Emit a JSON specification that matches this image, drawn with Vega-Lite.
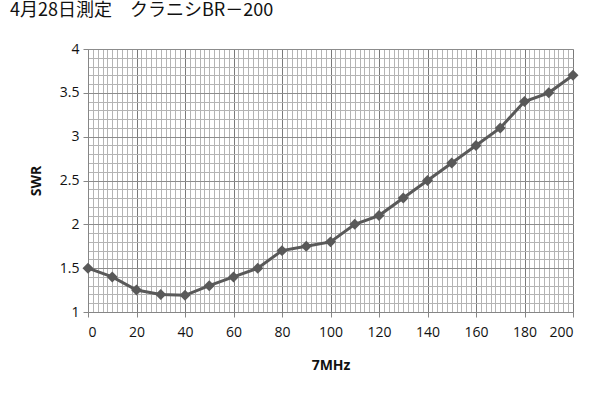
{
  "$schema": "https://vega.github.io/schema/vega-lite/v6.json",
  "width": 485,
  "height": 263,
  "autosize": {"type": "none"},
  "padding": {"left": 88, "top": 49, "right": 37, "bottom": 83},
  "background": "white",
  "title": {
    "text": "4月28日測定　クラニシBR－200",
    "anchor": "start",
    "frame": "group",
    "dx": -78,
    "offset": 22,
    "font": "Noto Sans CJK JP",
    "fontSize": 18,
    "fontWeight": "normal",
    "color": "#111111"
  },
  "data": {
    "values": [
      {"f": 0, "swr": 1.5},
      {"f": 10, "swr": 1.4},
      {"f": 20, "swr": 1.25},
      {"f": 30, "swr": 1.2},
      {"f": 40, "swr": 1.19},
      {"f": 50, "swr": 1.3},
      {"f": 60, "swr": 1.4},
      {"f": 70, "swr": 1.5},
      {"f": 80, "swr": 1.7},
      {"f": 90, "swr": 1.75},
      {"f": 100, "swr": 1.8},
      {"f": 110, "swr": 2.0},
      {"f": 120, "swr": 2.1},
      {"f": 130, "swr": 2.3},
      {"f": 140, "swr": 2.5},
      {"f": 150, "swr": 2.7},
      {"f": 160, "swr": 2.9},
      {"f": 170, "swr": 3.1},
      {"f": 180, "swr": 3.4},
      {"f": 190, "swr": 3.5},
      {"f": 200, "swr": 3.7}
    ]
  },
  "layer": [
    {
      "mark": {"type": "line", "color": "#595959", "strokeWidth": 3},
      "encoding": {
        "x": {
          "field": "f", "type": "quantitative",
          "scale": {"domain": [0, 200], "nice": false, "zero": false},
          "axis": {
            "orient": "top", "title": null, "labels": false, "ticks": false, "domain": false,
            "grid": true, "gridColor": "#b4b4b4", "gridWidth": 1, "gridOpacity": 1,
            "values": [0,2,4,6,8,10,12,14,16,18,20,22,24,26,28,30,32,34,36,38,40,42,44,46,48,50,52,54,56,58,60,62,64,66,68,70,72,74,76,78,80,82,84,86,88,90,92,94,96,98,100,102,104,106,108,110,112,114,116,118,120,122,124,126,128,130,132,134,136,138,140,142,144,146,148,150,152,154,156,158,160,162,164,166,168,170,172,174,176,178,180,182,184,186,188,190,192,194,196,198,200]
          }
        },
        "y": {
          "field": "swr", "type": "quantitative",
          "scale": {"domain": [1, 4], "nice": false, "zero": false},
          "axis": {
            "orient": "right", "title": null, "labels": false, "ticks": false, "domain": false,
            "grid": true, "gridColor": "#b4b4b4", "gridWidth": 1, "gridOpacity": 1,
            "values": [1,1.1,1.2,1.3,1.4,1.5,1.6,1.7,1.8,1.9,2,2.1,2.2,2.3,2.4,2.5,2.6,2.7,2.8,2.9,3,3.1,3.2,3.3,3.4,3.5,3.6,3.7,3.8,3.9,4]
          }
        }
      }
    },
    {
      "mark": {"type": "point", "shape": "diamond", "filled": true, "size": 120, "color": "#595959", "opacity": 1},
      "encoding": {
        "x": {
          "field": "f", "type": "quantitative",
          "axis": {
            "orient": "bottom", "title": "7MHz",
            "values": [0,20,40,60,80,100,120,140,160,180,200],
            "grid": true, "gridColor": "#7a7a7a", "gridWidth": 1, "gridOpacity": 1,
            "domain": true, "domainColor": "#868686", "domainWidth": 1,
            "ticks": true, "tickColor": "#868686", "tickSize": 5,
            "labelFont": "Open Sans", "labelFontSize": 14, "labelColor": "#111111", "labelPadding": 8,
            "titleFont": "Open Sans", "titleFontSize": 14, "titleFontWeight": "bold", "titleColor": "#111111", "titlePadding": 19
          }
        },
        "y": {
          "field": "swr", "type": "quantitative",
          "axis": {
            "orient": "left", "title": "SWR", "format": "~g",
            "values": [1, 1.5, 2, 2.5, 3, 3.5, 4],
            "grid": true, "gridColor": "#8c8c8c", "gridWidth": 1, "gridOpacity": 1,
            "domain": true, "domainColor": "#868686", "domainWidth": 1,
            "ticks": true, "tickColor": "#868686", "tickSize": 5,
            "labelFont": "Open Sans", "labelFontSize": 14, "labelColor": "#111111", "labelPadding": 4,
            "titleFont": "Open Sans", "titleFontSize": 14, "titleFontWeight": "bold", "titleColor": "#111111", "titlePadding": 16
          }
        }
      }
    }
  ],
  "resolve": {"axis": {"x": "independent", "y": "independent"}},
  "config": {"view": {"stroke": null}}
}
